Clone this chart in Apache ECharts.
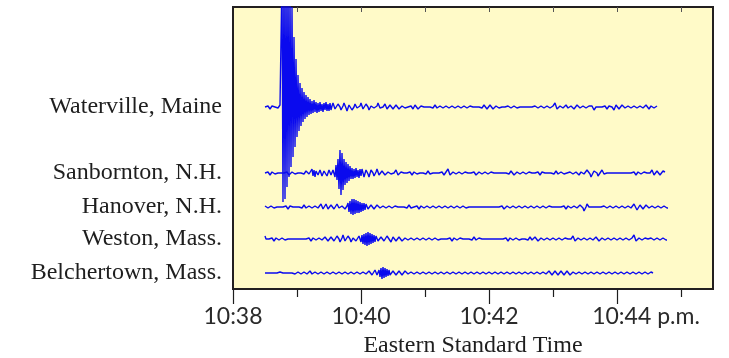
<!DOCTYPE html>
<html>
<head>
<meta charset="utf-8">
<script src="https://cdn.jsdelivr.net/npm/echarts@6/dist/echarts.min.js"></script>
<style>
html,body{margin:0;padding:0;background:#fff;}
#chart{width:729px;height:358px;}
</style>
</head>
<body>
<div id="chart"></div>
<script>
// Station names (top to bottom)
const stations = ['Waterville, Maine', 'Sanbornton, N.H.', 'Hanover, N.H.', 'Weston, Mass.', 'Belchertown, Mass.'];
// Time tick labels (minutes after 10:38 p.m. EST)
const tickMinutes = [0, 2, 4, 6];
const tickLabels = ['10:38', '10:40', '10:42', '10:44'];
const lastSuffix = ' p.m.';
// Recording start (minutes after 10:38) and sampling interval (minutes)
const recordStart = 0.5;
const sampleStep = 1 / 64;

// Trace amplitudes (relative units, + = up)
const waterville = [
0,1,2,1,-1,-2,-1,1,2,1,0,-1,-2,-1,1,2,1,
130,-95,135,-92,128,-80,125,-70,115,-60,100,-50,70,-40,
48,-30,32,-24,24,-19,19,-15,15,-12,12,-10,10,-8,8,
-7,6,-6,7,-5,5,-6,4,-5,5,-4,3,-5,4,-3,5,-4,3,-4,4,
-3,1,4,2,-2,-4,-1,3,4,0,
-3,-4,1,4,3,-1,-4,-2,2,4,
1,-3,-4,0,3,3,-1,-3,-3,1,
4,2,-2,-4,-1,3,3,0,-3,-2,
1,3,2,-1,-3,-2,1,4,3,-1,
-3,-3,0,2,3,1,-2,-3,-1,2,
3,1,-2,-2,0,2,3,0,-2,-3,
-1,1,2,1,-1,-2,-1,0,1,2,
1,-1,-2,0,2,2,0,-2,-2,0,
1,2,1,0,-1,-1,0,1,1,0,
-1,-2,-1,1,2,1,-1,-2,-1,1,
3,2,-1,-3,-2,1,2,1,-1,-1,
0,1,1,0,-1,-1,0,1,1,0,
-1,-1,0,1,2,1,-1,-2,-1,1,
2,1,0,-1,-1,0,1,1,0,-1,
-2,-1,1,2,2,0,-2,-2,0,2,
3,1,-2,-3,-1,1,2,1,-1,-2,
-1,0,1,1,0,-1,0,1,0,-1,
-1,0,1,1,0,-1,-1,0,1,0,
-1,-1,0,1,1,0,-1,-1,0,1,
1,0,-1,0,1,1,0,-1,-1,0,
1,2,1,-1,-2,-1,1,1,0,-1,
-1,0,1,3,4,1,-2,-3,-1,1,
2,1,-1,-2,0,2,1,-1,-1,0,
1,2,0,-2,-2,0,2,2,0,-1,
-2,-1,1,2,1,-1,-2,-1,1,2,
3,1,-1,-3,-2,0,2,2,0,-2,
-2,0,1,2,1,-1,-2,-1,1,3,
3,0,-2,-3,-1,2,3,1,-2,-2,
0,2,2,0,-1,-2,-1,1,3,2,
-1,-3,-2,1,3,2,-1,-2,-1,1,
2,1,-1,-2,0,2,2,0,-2,-1,
1,2,1,-1,-1,0,1
];
const sanbornton = [
0,1,2,1,-1,-2,-1,1,2,1,
-1,-2,-1,0,1,1,0,-1,-1,0,
1,2,1,-1,-2,-1,0,1,2,1,
-1,-2,-1,0,1,1,0,-1,-2,-1,
1,2,1,0,-1,-1,0,
4,-3,3,-4,2,4,-2,-4,3,4,
-3,-4,2,4,1,-3,-4,3,4,-2,
-4,3,5,-4,
8,-7,14,-16,23,-22,20,-17,14,-12,11,-10,9,-8,7,
-6,5,-6,4,-5,5,-4,3,-5,4,
-3,4,2,-4,-3,3,4,-1,-4,-2,
3,4,0,-3,-3,1,4,2,-2,-3,
-1,2,3,1,-2,-3,-1,1,2,1,
-1,-2,-2,0,2,3,1,-2,-3,-1,
1,2,2,0,-2,-2,0,1,2,1,
-1,-2,-1,1,3,2,-1,-3,-2,0,
2,2,0,-1,-2,-1,1,2,1,-1,
-2,-1,0,1,1,0,-1,-1,0,1,
2,1,-1,-2,-1,1,3,4,1,-2,
-3,-1,1,2,1,-1,-1,0,1,1,
0,-1,-2,-1,1,2,2,0,-2,-2,
0,1,2,1,-1,-2,-1,0,1,1,
0,-1,-1,0,1,2,1,-1,-2,-1,
1,2,1,0,-1,-1,0,1,1,0,
-1,-1,0,1,1,0,-1,-2,-1,1,
2,2,0,-2,-2,0,1,1,0,-1,
-1,0,1,2,1,-1,-2,-1,1,2,
2,0,-2,-2,0,1,2,1,-1,-2,
-1,1,2,1,0,-1,-1,0,1,1,
0,-1,-2,-1,1,2,1,-1,-1,0,
1,2,1,-1,-2,-1,0,1,2,1,
0,-1,-1,0,1,1,0,-1,-2,-1,
1,2,1,-1,-2,0,3,5,3,-1,
-4,-5,-2,2,4,3,0,-3,-3,0,
2,3,1,-1,-2,-1,0,1,1,0,
-1,-1,0,1,1,0,-1,-1,0,1,
1,0,-1,-1,0,1,1,0,-1,-1,
0,1,2,1,-1,-2,-1,1,2,1,
-1,-2,-1,1,2,2,0,-2,-2,0,
2,3,1,-2,-3,-1,2,3,1,-2,
-3,-1,2,3,1
];
const hanover = [
1,2,1,-1,-2,-1,1,2,1,-1,
-2,-1,0,1,1,0,-1,-1,0,1,
2,1,-1,-2,-1,1,2,1,0,-1,
-1,0,1,1,0,-1,-2,-1,1,2,
1,-1,-1,0,1,1,0,-1,-1,0,
1,1,0,-1,
-2,1,3,1,-2,-3,0,3,2,-2,
-3,-1,2,3,1,-2,-3,0,3,3,
-1,-3,-2,1,3,2,-2,-3,1,
4,-5,6,-7,8,-8,8,-7,7,-6,6,-6,5,-5,4,-4,4,-3,
3,1,-2,-3,-1,2,3,1,-2,-3,
-1,2,3,2,-1,-3,-2,1,3,2,
-1,-2,-1,1,2,1,-1,-2,-1,1,
2,2,0,-2,-2,0,2,2,0,-2,
-2,-1,1,2,1,-1,-2,-1,0,1,
2,1,-1,-2,-1,1,2,1,-1,-1,
0,1,1,0,-1,-1,0,1,1,0,
-1,-2,-1,1,2,1,-1,-1,0,1,
1,0,-1,-1,0,1,1,0,-1,-1,
0,1,2,1,-1,-2,-1,1,2,1,
-1,-2,-1,0,1,1,0,-1,-1,0,
1,1,0,-1,-1,0,1,1,0,-1,
-1,0,1,1,0,-1,-1,0,1,1,
0,-1,-1,0,1,2,1,-1,-2,-1,
0,1,1,0,-1,-1,0,1,1,0,
-1,-1,0,1,1,0,-1,-1,0,1,
1,0,-1,-1,0,1,1,0,-1,-1,
0,1,1,0,-1,-1,0,1,2,1,
-1,-2,-1,1,2,2,0,-2,-2,0,
2,2,0,-2,-2,0,1,2,1,-1,
-2,-1,1,2,1,-1,-2,-1,1,2,
1,-1,-2,0,2,4,3,-1,-4,-3,
0,3,3,0,-2,-2,0,2,2,0,
-2,-2,0,2,2,0,-2,-1,1,2,
1,-1,-2,-1,1,2,1,-1,-1,0,
1,1,0,-1,-1,0,1,2,1,-1,
-2,-1,1,2,1,-1,-2,0,3,4,
1,-3,-4,-1,2,3,1,-2,-2,0,
2,2,0,-1,-2,-1,1,2,1,-1,
-1,0,1,1,0,-1,-1,0,1,2,
1,-1,-1
];
const weston = [
3,0,-2,-2,0,2,2,1,-1,-2,
-1,1,2,1,-1,-2,-1,1,2,1,
-1,-2,-1,0,1,1,0,-1,-1,0,
1,1,0,-1,-1,0,1,1,0,-1,
-1,0,1,2,1,-1,-2,-1,1,2,
1,-1,-2,-1,1,
2,1,-1,-2,0,2,3,1,-2,-3,
-1,2,3,1,-2,-3,0,3,3,0,
-3,-3,1,4,2,-2,-4,-1,3,4,
0,-3,-3,1,3,2,-2,-3,0,3,
2,
-3,4,-5,5,-6,6,-7,7,-6,6,-5,5,-4,4,-3,
3,1,-2,-3,-1,2,3,1,-2,-3,
0,3,3,0,-2,-3,-1,2,3,1,
-2,-2,0,2,2,0,-2,-2,0,1,
2,1,-1,-2,-1,1,2,1,-1,-2,
-1,1,2,1,-1,-1,0,1,1,0,
-1,-1,0,1,2,1,-1,-2,-1,1,
2,1,-1,-2,-1,0,1,1,0,-1,
-1,0,1,2,1,-1,-2,-1,1,2,
1,-1,-2,-1,1,2,1,0,-1,-1,
0,1,1,0,-1,-2,-1,1,2,1,
-1,-2,-1,1,2,2,0,-2,-2,0,
2,2,0,-1,-1,0,1,1,0,-1,
-1,0,1,1,0,-1,-1,0,1,2,
1,-1,-2,-1,1,3,2,-1,-3,-2,
1,3,2,-1,-2,-1,0,1,1,0,
-1,-2,-1,1,2,1,-1,-2,0,2,
3,1,-2,-3,-1,1,2,1,-1,-1,
0,1,1,0,-1,-2,-1,1,3,2,
-1,-3,-2,1,2,1,-1,-2,-1,1,
2,2,0,-2,-2,0,2,3,1,-2,
-3,-1,1,2,1,-1,-1,0,1,1,
0,-1,-2,-1,1,2,1,-1,-2,0,
2,3,1,-2,-3,-1,1,2,1,-1,
-1,0,1,1,0,-1,-1,0,1,2,
1,-1,-2,-1,1,2,1,-1,-1,0,
1,1,0,-1,-2,-1,1,3,4,1,
-2,-4,-2,1,3,2,-1,-3,-2,1,
2,2,0,-2,-1,1,2,1,-1,-2,
-1,1,2,1,-1,-1,0,1,1,0,
-1,-1
];
const belchertown = [
0,1,1,0,-1,-1,0,1,1,0,
-1,-1,0,1,2,1,-1,-1,0,1,
1,0,-1,-1,0,1,1,0,-1,-2,
-1,0,1,1,0,-1,-1,0,1,1,
0,-1,-1,0,1,2,1,-1,-1,0,
1,1,0,-1,-1,0,1,1,0,-1,
-2,-1,1,2,1,-1,-1,0,1,1,
0,-1,-1,0,1,1,0,-1,-2,-1,
1,2,1,-1,-2,-1,1,2,1,-1,
-1,0,1,1,0,-1,-2,-1,1,2,
1,-1,-3,-1,2,3,1,-2,-3,0,
3,2,-2,-3,
3,-4,5,-6,6,-5,5,-4,4,-3,3,-2,
-3,-1,2,3,1,-2,-3,-1,2,2,
0,-2,-2,0,2,2,0,-1,-2,-1,
1,2,1,-1,-1,0,1,1,0,-1,
-1,0,1,1,0,-1,-1,0,1,1,
0,-1,-1,0,1,1,0,-1,-2,-1,
1,2,1,-1,-1,0,1,1,0,-1,
-1,0,1,1,0,-1,-1,0,1,1,
0,-1,-1,0,1,2,1,-1,-2,-1,
1,2,1,-1,-1,0,1,1,0,-1,
-1,0,1,1,0,-1,-1,0,1,1,
0,-1,-1,0,1,1,0,-1,-1,0,
1,1,0,-1,-2,-1,1,2,1,-1,
-1,0,1,1,0,-1,-1,0,1,2,
1,-1,-2,-1,1,2,1,-1,-2,-1,
1,2,1,-1,-1,0,1,1,0,-1,
-1,0,1,2,1,-1,-2,0,2,3,
1,-2,-3,-1,2,3,1,-2,-2,0,
2,2,0,-2,-2,0,2,3,1,-2,
-3,-1,1,2,1,-1,-1,0,1,1,
0,-1,-2,-1,1,2,1,-1,-1,0,
1,1,0,-1,-1,0,1,1,0,-1,
-1,0,1,1,0,-1,-1,0,1,1,
0,-1,-1,0,1,1,0,-1,-1,0,
1,1,0,-1,-1,0,1,1,0,-1,
-1,0,1,1,0,-1,-1,0,1,1,
0,-1,-1,0,1,1,0,-1,-1,0,
1,1,0
];

const traces = [waterville, sanbornton, hanover, weston, belchertown];
// vertical placement of each record on the plotting paper (layout)
const rowOffset = [182, 116, 82, 50, 16];

const chart = echarts.init(document.getElementById('chart'), null, {renderer: 'canvas'});
const inkColor = '#1e1e1e';
const traceColor = '#0a0aee';

const series = traces.map((vals, k) => ({
  type: 'line',
  name: stations[k],
  xAxisIndex: 0,
  yAxisIndex: 0,
  showSymbol: false,
  symbol: 'none',
  clip: true,
  silent: true,
  animation: false,
  lineStyle: {color: traceColor, width: 1.4},
  data: vals.map((v, i) => [recordStart + i * sampleStep, rowOffset[k] + v])
}));

const option = {
  animation: false,
  backgroundColor: '#ffffff',
  grid: {
    left: 233, right: 16, top: 7, bottom: 69,
    outerBoundsMode: 'none',
    containLabel: false,
    show: true,
    backgroundColor: '#FFFAC8',
    borderColor: '#231f20',
    borderWidth: 2
  },
  xAxis: [
    {
      type: 'value', min: 0, max: 7.5, position: 'bottom',
      axisLine: {show: false},
      splitLine: {show: false},
      axisTick: {show: true, length: 15, customValues: tickMinutes, lineStyle: {color: inkColor, width: 1.2}},
      axisLabel: {
        customValues: tickMinutes,
        margin: 16,
        fontFamily: 'Lato', fontSize: 23, color: '#2a2a2a',
        formatter: function (v) {
          const idx = tickMinutes.indexOf(v);
          if (idx < 0) return '';
          if (idx === tickMinutes.length - 1) return '{pad| }' + tickLabels[idx] + lastSuffix;
          return tickLabels[idx];
        },
        rich: {pad: {width: 58, fontSize: 23, fontFamily: 'Lato'}}
      },
      name: 'Eastern Standard Time',
      nameLocation: 'middle',
      nameGap: 45,
      nameTextStyle: {fontFamily: 'Liberation Serif', fontSize: 24, color: inkColor}
    },
    {
      type: 'value', min: 0, max: 7.5, position: 'bottom',
      axisLine: {show: false},
      splitLine: {show: false},
      axisTick: {show: true, length: 8, customValues: [1, 3, 5, 7], lineStyle: {color: inkColor, width: 1.2}},
      axisLabel: {show: false}
    },
    {
      type: 'value', min: 0, max: 7.5, position: 'top',
      axisLine: {show: false},
      splitLine: {show: false},
      axisTick: {show: true, inside: true, length: 5, customValues: [1, 2, 3, 4, 5, 6, 7], lineStyle: {color: '#555', width: 1}},
      axisLabel: {show: false}
    }
  ],
  yAxis: {
    type: 'value', min: 0, max: 282,
    axisLine: {show: false},
    axisTick: {show: false},
    splitLine: {show: false},
    axisLabel: {
      customValues: rowOffset,
      margin: 11,
      padding: [0, 0, 4, 0],
      fontFamily: 'Liberation Serif', fontSize: 24, color: inkColor,
      formatter: function (v) {
        const idx = rowOffset.indexOf(v);
        return idx >= 0 ? stations[idx] : '';
      }
    }
  },
  series: series
};
chart.setOption(option);
</script>
</body>
</html>
